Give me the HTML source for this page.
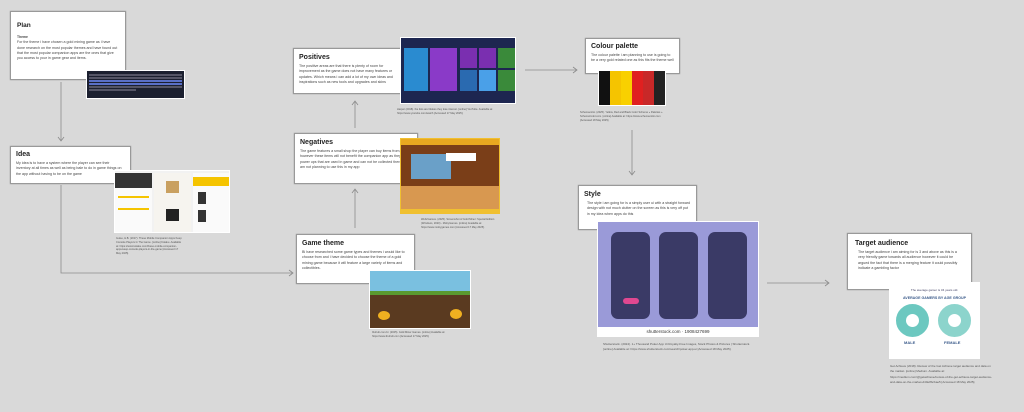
<!DOCTYPE html>
<html><head><meta charset="utf-8"><style>
*{margin:0;padding:0;box-sizing:border-box}
body{width:1024px;height:412px;background:#d9d9d9;position:relative;overflow:hidden;font-family:"Liberation Sans",sans-serif;color:#333}
.b{position:absolute;background:#fff;border:1px solid #999;box-shadow:0 0 1px #888}
.b h3{font-size:7px;font-weight:bold;margin:0 0 3px;color:#222}
.b p{font-size:3.6px;line-height:5.3px;color:#444}
.c{position:absolute;font-size:2.6px;line-height:3.8px;color:#555}
.i{position:absolute;border:1px solid #fff;overflow:hidden}
svg{position:absolute;left:0;top:0}
</style></head><body>
<svg width="1024" height="412">
<g stroke="#8a8a8a" stroke-width="0.8" fill="none">
<path d="M61 82V140M58 137L61 141L64 137"/>
<path d="M61 185V273H292M289 270L293 273L289 276"/>
<path d="M355 228V190M352 193L355 189L358 193"/>
<path d="M355 128V102M352 105L355 101L358 105"/>
<path d="M525 70H576M573 67L577 70L573 73"/>
<path d="M632 130V174M629 171L632 175L635 171"/>
<path d="M767 283H828M825 280L829 283L825 286"/>
</g></svg>

<div class="b" style="left:10px;top:11px;width:116px;height:69px;padding:10px 6px">
<h3 style="font-size:6.5px;margin-bottom:6px">Plan</h3><p style="font-weight:bold;font-size:3.4px">Theme</p>
<p>For the theme i have chosen a gold mining game as i have done research on the most popular themes and have found out that the most popular companion apps are the ones that give you access to your in game gear and items.</p></div>
<div class="i" style="left:86px;top:70px;width:99px;height:29px;background:#1c2030;padding:2px"><div style="height:2px;background:#556;margin:1px 0"></div><div style="height:2px;background:#556;margin:1px 0"></div><div style="height:2px;background:#5a70c8;margin:1px 0"></div><div style="height:2px;background:#5a70c8;margin:1px 0"></div><div style="height:2px;background:#556;margin:1px 0"></div><div style="height:2px;background:#556;width:50%"></div></div>

<div class="b" style="left:10px;top:146px;width:121px;height:38px;padding:4px 5px"><h3>Idea</h3>
<p>My idea is to have a system where the player can see their inventory at all times as well as being bale to do in game things on the app without having to be on the game</p></div>
<div class="i" style="left:114px;top:170px;width:116px;height:63px;background:#f2f2f2">
<div style="position:absolute;left:0;top:2px;width:37px;height:59px;background:#fafafa"><div style="height:15px;background:#333"></div><div style="margin:8px 3px;height:2px;background:#f5c400"></div><div style="margin:10px 3px;height:2px;background:#f5c400"></div></div>
<div style="position:absolute;left:39px;top:2px;width:37px;height:59px;background:#f6f4ef"><div style="margin:8px 12px;height:12px;background:#c9a060"></div><div style="margin:16px 12px;height:12px;background:#222"></div></div>
<div style="position:absolute;left:78px;top:2px;width:37px;height:59px;background:#fafafa"><div style="height:9px;background:#f5c400;margin-top:4px"></div><div style="margin:6px 5px;height:12px;width:8px;background:#333"></div><div style="margin:6px 5px;height:12px;width:8px;background:#333"></div></div>
</div>
<div class="c" style="left:116px;top:237px;width:66px">Guise, H.B. (2017). These Mobile Companion Apps Keep Console Players In The Game. [online] Kotaku. Available at: https://www.kotaku.com/these-mobile-companion-apps-keep-console-players-in-the-game [Accessed 17 May 2025].</div>

<div class="b" style="left:293px;top:48px;width:108px;height:46px;padding:5px"><h3>Positives</h3>
<p>The positive areas are that there is plenty of room for improvement as the game does not have many features or updates. Which means i can add a lot of my own ideas and inspirations such as new tools and upgrades and skins</p></div>
<div class="i" style="left:400px;top:37px;width:116px;height:67px;background:#1d2650">
<div style="position:absolute;left:3px;top:10px;width:24px;height:43px;background:#2a8bd0"></div>
<div style="position:absolute;left:29px;top:10px;width:27px;height:43px;background:#8a3ac8"></div>
<div style="position:absolute;left:59px;top:10px;width:17px;height:20px;background:#7a2fb0"></div>
<div style="position:absolute;left:78px;top:10px;width:17px;height:20px;background:#7a2fb0"></div>
<div style="position:absolute;left:97px;top:10px;width:17px;height:20px;background:#3a8a3a"></div>
<div style="position:absolute;left:59px;top:32px;width:17px;height:21px;background:#2a6ab0"></div>
<div style="position:absolute;left:78px;top:32px;width:17px;height:21px;background:#4aa0e8"></div>
<div style="position:absolute;left:97px;top:32px;width:17px;height:21px;background:#3a8a3a"></div></div>
<div class="c" style="left:397px;top:108px;width:124px">Harper (2018). the lists are lifeless they lose interest. [online] YouTube. Available at: https://www.youtube.com/watch [Accessed 17 May 2025].</div>

<div class="b" style="left:585px;top:38px;width:95px;height:36px;padding:4px 5px"><h3>Colour palette</h3>
<p>The colour palette i am planning to use is going to be a very gold related one as this fits the theme well</p></div>
<div class="i" style="left:598px;top:70px;width:68px;height:36px;display:flex">
<div style="flex:1;background:#111"></div><div style="flex:1;background:#f5c400"></div><div style="flex:1;background:#f9d000"></div><div style="flex:1;background:#e02020"></div><div style="flex:1;background:#c82828"></div><div style="flex:1;background:#222"></div></div>
<div class="c" style="left:580px;top:111px;width:86px">Schemecolor. (2025). Yellow, Red and Black Color Scheme » Palettes » SchemeColor.com. [online] Available at: https://www.schemecolor.com [Accessed 18 May 2025].</div>

<div class="b" style="left:294px;top:133px;width:124px;height:51px;padding:5px"><h3>Negatives</h3>
<p>The game features a small shop the player can buy items from, however these items will not benefit the companion app as they are power ups that are used in game and can not be collected therefore i am not planning to use this in my app</p></div>
<div class="i" style="left:400px;top:138px;width:100px;height:76px;background:#7a3e18;border-color:#f0c030">
<div style="height:6px;background:#e8a820"></div>
<div style="position:absolute;left:10px;top:15px;width:40px;height:25px;background:#6aa0c8"></div>
<div style="position:absolute;left:45px;top:14px;width:30px;height:8px;background:#fff"></div>
<div style="position:absolute;left:0;top:47px;width:100px;height:26px;background:#d89850"></div>
<div style="position:absolute;left:0;bottom:0;width:100px;height:4px;background:#f0c030"></div></div>
<div class="c" style="left:421px;top:218px;width:76px">WebzGames. (2025). Screenshot of Gold Miner: Special Edition (Windows, 2020) - MobyGames. [online] Available at: https://www.mobygames.com [Accessed 17 May 2025].</div>

<div class="b" style="left:296px;top:234px;width:119px;height:50px;padding:5px"><h3>Game theme</h3>
<p>Bi have researched some game types and themes i would like to choose from and i have decided to choose the theme of a gold mining game because it will feature a large variety of items and collectibles.</p></div>
<div class="i" style="left:369px;top:270px;width:102px;height:59px;background:#5a3a20">
<div style="height:20px;background:#7ac0e0"></div><div style="height:4px;background:#5a9a30"></div>
<div style="position:absolute;left:8px;top:40px;width:12px;height:9px;background:#f0b020;border-radius:50%"></div>
<div style="position:absolute;left:80px;top:38px;width:12px;height:10px;background:#f0b020;border-radius:50%"></div></div>
<div class="c" style="left:372px;top:331px;width:98px">Ibuhub.com.br. (2025). Gold Miner Games. [online] Available at: https://www.ibuhub.com [Accessed 17 May 2025].</div>

<div class="b" style="left:578px;top:185px;width:119px;height:45px;padding:5px"><h3>Style</h3>
<p style="padding-left:3px">The style i am going for is a simply user ui with a straight forward design with not much clutter on the screen as this is very off put in my idea when apps do this</p></div>
<div class="i" style="left:597px;top:221px;width:162px;height:116px;background:#fff;border:none">
<div style="position:absolute;left:1px;top:1px;width:160px;height:105px;background:#9a9ad8">
<div style="position:absolute;left:13px;top:10px;width:39px;height:87px;background:#3a3a66;border-radius:7px"><div style="margin:66px auto 0;width:16px;height:6px;background:#e04890;border-radius:3px"></div></div>
<div style="position:absolute;left:61px;top:10px;width:39px;height:87px;background:#3a3a66;border-radius:7px"></div>
<div style="position:absolute;left:110px;top:10px;width:39px;height:87px;background:#3a3a66;border-radius:7px"></div></div>
<div style="position:absolute;left:0;top:108px;width:162px;text-align:center;font-size:4.5px;color:#333">shutterstock.com · 1908427699</div></div>
<div class="c" style="left:603px;top:342px;width:150px;font-size:3px;line-height:5.3px">Shutterstock. (2024). 1+ Thousand Poker App Ui Royalty-Free Images, Stock Photos &amp; Pictures | Shutterstock. [online] Available at: https://www.shutterstock.com/search/poker-app-ui [Accessed 18 May 2025].</div>

<div class="b" style="left:847px;top:233px;width:125px;height:57px;padding:6px 7px"><h3>Target audience</h3>
<p style="padding-left:3px">The target audience i am aiming for is 3 and above as this is a very friendly game towards all audience however it could be argued the fact that there is a merging feature it could possibly indicate a gambling factor</p></div>
<div class="i" style="left:889px;top:282px;width:91px;height:77px;background:#fff">
<div style="text-align:center;font-size:3px;color:#446;margin-top:5px">The average gamer is 34 years old.</div>
<div style="text-align:center;font-size:3.6px;font-weight:bold;color:#3a5a8a;margin-top:4px">AVERAGE GAMERS BY AGE GROUP</div>
<div style="position:absolute;left:6px;top:21px;width:33px;height:33px;border-radius:50%;border:10px solid #6cc8c0"></div>
<div style="position:absolute;left:48px;top:21px;width:33px;height:33px;border-radius:50%;border:10px solid #8cd4cc"></div>
<div style="position:absolute;left:14px;top:57px;font-size:4px;font-weight:bold;color:#3a5a8a">MALE</div>
<div style="position:absolute;left:54px;top:57px;font-size:4px;font-weight:bold;color:#3a5a8a">FEMALE</div></div>
<div class="c" style="left:890px;top:364px;width:104px;font-size:3px;line-height:5.4px">Get Achieve (2018). Review of the Get Achieve target audience and data on the market. [online] Medium. Available at: https://medium.com/@getachieve/review-of-the-get-achieve-target-audience-and-data-on-the-market-d40e8bcbae5 [Accessed 18 May 2025].</div>
</body></html>
